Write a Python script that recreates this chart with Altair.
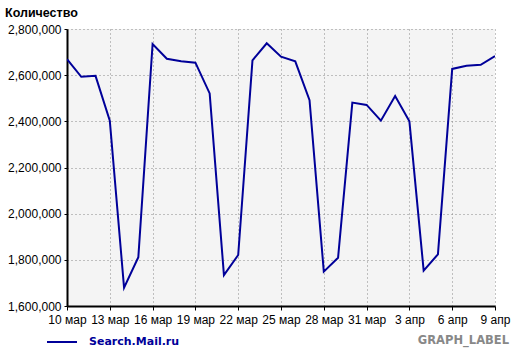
import altair as alt
import pandas as pd

days = list(range(31))
values = [2669000, 2593000, 2597000, 2403000, 1679000, 1811000, 2735000, 2671000,
          2660000, 2654000, 2521000, 1734000, 1821000, 2664000, 2738000, 2680000,
          2660000, 2492000, 1749000, 1809000, 2481000, 2471000, 2403000, 2510000,
          2400000, 1753000, 1824000, 2627000, 2641000, 2645000, 2683000]
tick_labels = ["10 мар", "13 мар", "16 мар", "19 мар", "22 мар", "25 мар",
               "28 мар", "31 мар", "3 апр", "6 апр", "9 апр"]
series = "Search.Mail.ru"

df = pd.DataFrame({"day": days, "value": values, "series": series})

FONT = "Liberation Sans"
BOLDFONT = "DejaVu Sans"
BLUE = "#000099"

label_js = "[" + ",".join("'%s'" % t for t in tick_labels) + "]"

line = alt.Chart(df).mark_line(strokeWidth=2, clip=True).encode(
    x=alt.X("day:Q", scale=alt.Scale(domain=[0, 30], nice=False, zero=False),
            axis=alt.Axis(values=list(range(0, 31, 3)), title=None,
                          labelExpr=label_js + "[round(datum.value/3)]",
                          labelFont=FONT, labelFontSize=12, labelColor="#000",
                          labelPadding=4, tickSize=4, tickColor="#000",
                          domainColor="#000", domainWidth=2,
                          grid=True, gridDash=[1, 3], gridColor="#888", gridOpacity=1,
                          labelFlush=False)),
    y=alt.Y("value:Q", scale=alt.Scale(domain=[1600000, 2800000], nice=False, zero=False),
            axis=alt.Axis(values=list(range(1600000, 2800001, 200000)), format=",d",
                          title=None, labelFont=FONT, labelFontSize=12, labelColor="#000",
                          labelPadding=3, tickSize=3, tickColor="#000",
                          domainColor="#000", domainWidth=2,
                          grid=True, gridDash=[1, 3], gridColor="#888", gridOpacity=1)),
    color=alt.Color("series:N", scale=alt.Scale(domain=[series], range=[BLUE]),
                    legend=alt.Legend(title=None, orient="none", legendX=-21, legendY=297,
                                      symbolType="stroke", symbolSize=900, symbolStrokeWidth=2,
                                      labelFont=BOLDFONT, labelFontSize=11, labelFontWeight="bold",
                                      labelColor=BLUE, labelOffset=11)),
)

label = alt.Chart(pd.DataFrame({"t": ["GRAPH_LABEL"]})).mark_text(
    align="right", baseline="middle", font=BOLDFONT, fontSize=11.5, fontWeight="bold",
    color="#888"
).encode(text="t:N", x=alt.value(442), y=alt.value(312))

chart = alt.layer(line, label).properties(
    width=428, height=277,
    padding={"left": 67, "top": 29, "right": 25, "bottom": 47},
    autosize=alt.AutoSizeParams(type="none"),
    background="white",
    title=alt.TitleParams("Количество", anchor="start", frame="group", dx=-62, dy=0,
                          font=FONT, fontSize=12.5, fontWeight="bold", color="#000"),
).configure_view(fill="#f4f4f4", stroke=None)

chart.save("out.html", embed_options={"renderer": "svg", "actions": False})
